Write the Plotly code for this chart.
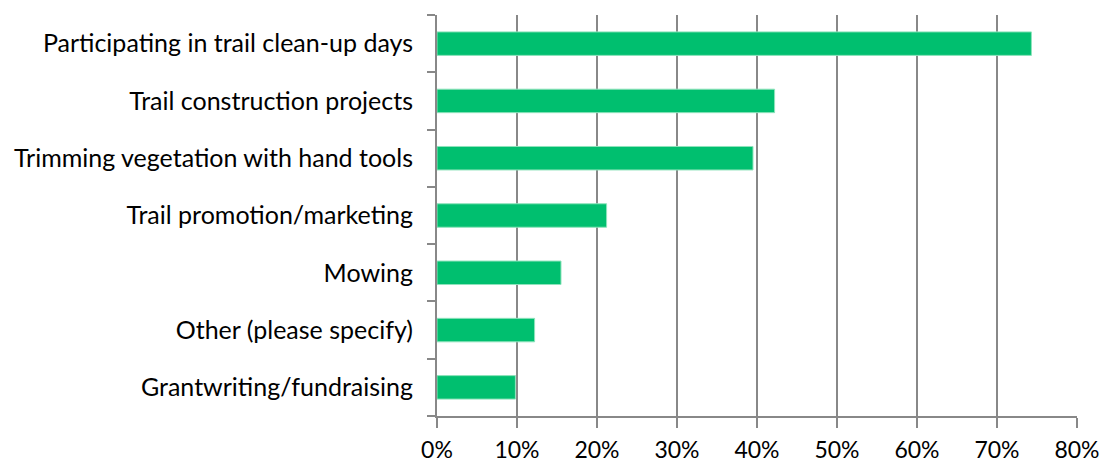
import plotly.graph_objects as go

# Volunteer activity categories (top to bottom) and share of respondents
activities = [
    "Participating in trail clean-up days",
    "Trail construction projects",
    "Trimming vegetation with hand tools",
    "Trail promotion/marketing",
    "Mowing",
    "Other (please specify)",
    "Grantwriting/fundraising",
]
shares = [0.743, 0.422, 0.395, 0.212, 0.155, 0.122, 0.098]

x_ticks = [0, 0.1, 0.2, 0.3, 0.4, 0.5, 0.6, 0.7, 0.8]
x_tick_labels = ["0%", "10%", "20%", "30%", "40%", "50%", "60%", "70%", "80%"]

GREEN = "#00BF6F"
GRID = "#888888"
FONT = "Lato, Noto Sans, sans-serif"
FONT_SIZE = 25
X_FONT_SIZE = 23

fig = go.Figure(
    go.Bar(
        x=shares,
        y=activities,
        orientation="h",
        width=0.41,
        marker=dict(color=GREEN, line=dict(color="#8FE3BC", width=1)),
        hoverinfo="skip",
    )
)

fig.update_layout(
    width=1104,
    height=462,
    margin=dict(l=437, r=27, t=15, b=46),
    paper_bgcolor="white",
    plot_bgcolor="white",
    showlegend=False,
    font=dict(family=FONT, size=FONT_SIZE, color="#000000"),
)

fig.update_xaxes(
    range=[0, 0.8],
    tickvals=x_ticks,
    ticktext=x_tick_labels,
    showgrid=True,
    gridcolor=GRID,
    gridwidth=2,
    zeroline=False,
    showline=True,
    linecolor=GRID,
    linewidth=2,
    ticks="outside",
    ticklen=10,
    tickwidth=2,
    tickcolor=GRID,
    ticklabelstandoff=2,
    tickfont=dict(family=FONT, size=X_FONT_SIZE, color="#000000"),
    automargin=False,
    fixedrange=True,
)

fig.update_yaxes(
    categoryorder="array",
    categoryarray=activities[::-1],
    showgrid=False,
    zeroline=False,
    showline=True,
    linecolor=GRID,
    linewidth=2,
    ticks="outside",
    tickson="boundaries",
    ticklen=8,
    tickwidth=2,
    tickcolor=GRID,
    ticklabelstandoff=17,
    tickfont=dict(family=FONT, size=FONT_SIZE, color="#000000"),
    automargin=False,
    fixedrange=True,
)

fig.write_html("out.html", config={"displayModeBar": False})
